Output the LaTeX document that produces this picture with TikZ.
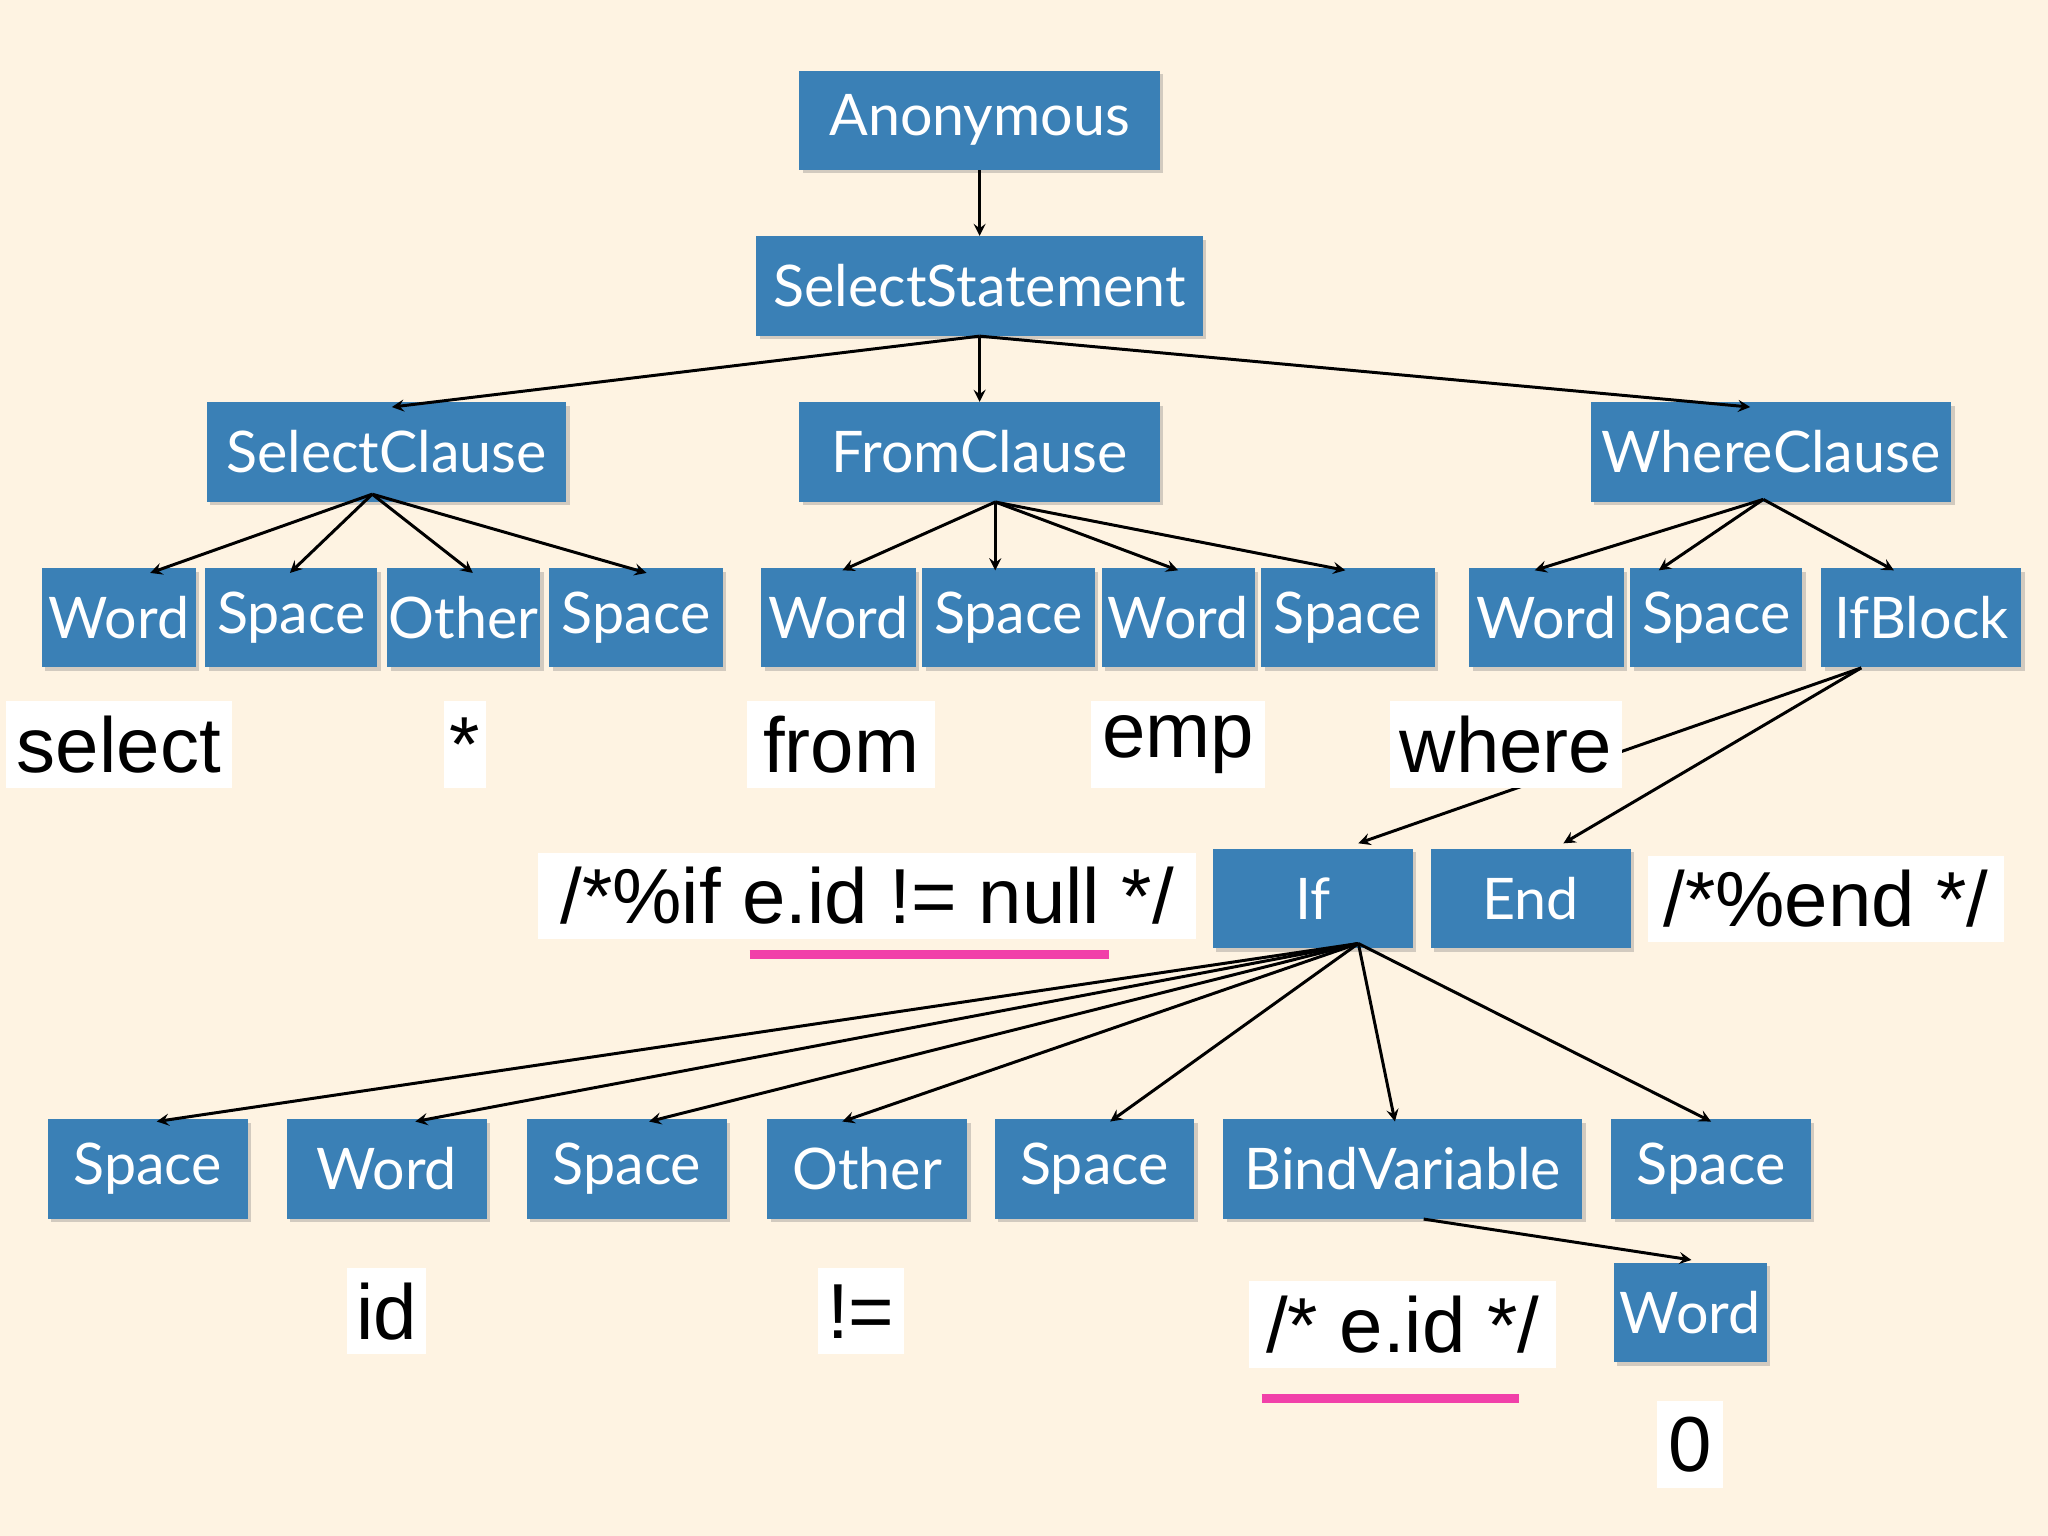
\documentclass[tikz,border=0pt]{standalone}
\usepackage{fontspec}
\setmainfont{Liberation Sans}
\newfontfamily\boxfont{Lato}
\usetikzlibrary{calc,shadows}
\definecolor{bg}{HTML}{FEF3E2}
\definecolor{bx}{HTML}{3A80B6}
\begin{document}
\begin{tikzpicture}[x=0.02cm,y=-0.02cm,
 b/.style={fill=bx,text=white,minimum height=76*0.02cm,inner sep=0pt,font=\boxfont\fontsize{25}{30}\selectfont,drop shadow={shadow xshift=1.5pt,shadow yshift=-1.5pt,opacity=0.35}},
 l/.style={fill=white,inner sep=0pt,minimum height=66*0.02cm,font=\fontsize{34}{40}\selectfont},
 e/.style={-stealth,line width=1.3pt}]
\fill[bg] (0,0) rectangle (1568,1176);
\node[b,minimum width=276*0.02cm] (an) at (750,92) {Anonymous};
\node[b,minimum width=342*0.02cm] (ss) at (750,219) {SelectStatement};
\node[b,minimum width=275*0.02cm] (sc) at (296,346) {SelectClause};
\node[b,minimum width=276*0.02cm] (fc) at (750,346) {FromClause};
\node[b,minimum width=276*0.02cm] (wc) at (1356,346) {WhereClause};
\node[b,minimum width=118*0.02cm] (a1) at (91,473) {Word};
\node[b,minimum width=132*0.02cm] (a2) at (223,473) {Space};
\node[b,minimum width=117*0.02cm] (a3) at (355,473) {Other};
\node[b,minimum width=133*0.02cm] (a4) at (487,473) {Space};
\node[b,minimum width=118*0.02cm] (b1) at (642,473) {Word};
\node[b,minimum width=132*0.02cm] (b2) at (772,473) {Space};
\node[b,minimum width=117*0.02cm] (b3) at (902,473) {Word};
\node[b,minimum width=133*0.02cm] (b4) at (1032,473) {Space};
\node[b,minimum width=118*0.02cm] (c1) at (1184,473) {Word};
\node[b,minimum width=132*0.02cm] (c2) at (1314,473) {Space};
\node[b,minimum width=153*0.02cm] (c3) at (1471,473) {IfBlock};
\node[b,minimum width=153*0.02cm] (if) at (1005,688) {If};
\node[b,minimum width=153*0.02cm] (en) at (1172,688) {End};
\node[b,minimum width=153*0.02cm] (d1) at (113,895) {Space};
\node[b,minimum width=153*0.02cm] (d2) at (296,895) {Word};
\node[b,minimum width=153*0.02cm] (d3) at (480,895) {Space};
\node[b,minimum width=153*0.02cm] (d4) at (664,895) {Other};
\node[b,minimum width=153*0.02cm] (d5) at (838,895) {Space};
\node[b,minimum width=275*0.02cm] (d6) at (1074,895) {BindVariable};
\node[b,minimum width=153*0.02cm] (d7) at (1310,895) {Space};
\node[b,minimum width=117*0.02cm] (wd) at (1294,1005) {Word};
% edges
\draw[e] (an.south) -- (ss.north);
\draw[e] (ss.south) -- ($(sc.north)+(4,4)$);
\draw[e] (ss.south) -- (fc.north);
\draw[e] (ss.south) -- ($(wc.north)+(-16,4)$);
\foreach \n/\d in {a1/24,a2/-1,a3/7,a4/8}
  \draw[e] ($(sc.south)+(-11,-6)$) -- ($(\n.north)+(\d,4)$);
\foreach \n/\d in {b1/3,b2/-10,b3/0,b4/-2}
  \draw[e] ($(fc.south)+(12,0)$) -- ($(\n.north)+(\d,2)$);
\foreach \n/\d in {c1/-9,c2/-44,c3/-21}
  \draw[e] ($(wc.south)+(-6,-2)$) -- ($(\n.north)+(\d,2)$);
\draw[e] ($(c3.south)+(-46,0)$) -- ($(if.north)+(35,-4)$);
\draw[e] ($(c3.south)+(-46,0)$) -- ($(en.north)+(25,-4)$);
\foreach \n/\d in {d1/7,d2/22,d3/17,d4/-19,d5/12,d6/-6,d7/0}
  \draw[e] ($(if.south)+(35,-4)$) -- ($(\n.north)+(\d,2)$);
\draw[e] ($(d6.south)+(16,0)$) -- ($(wd.north)+(1,-2)$);
% labels
\node[l,minimum width=173*0.02cm] (t1) at (91,570) {select};
\node[l,minimum width=32*0.02cm] (t2) at (356,570) {*};
\node[l,minimum width=144*0.02cm] (t3) at (644,570) {from};
\node[l,minimum width=133*0.02cm] (t4) at (902,570) {emp};
\node[l,minimum width=178*0.02cm] (t5) at (1153,570) {where};
\node[l,minimum width=504*0.02cm] (t6) at (664,686) {/*\%if e.id != null */};
\node[l,minimum width=273*0.02cm] (t7) at (1398,688) {/*\%end */};
\node[l,minimum width=61*0.02cm] (t8) at (296,1004) {id};
\node[l,minimum width=66*0.02cm] (t9) at (659,1004) {!=};
\node[l,minimum width=235*0.02cm] (t10) at (1074,1014) {/* e.id */};
\node[l,minimum width=51*0.02cm] (t11) at (1294,1106) {0};
\draw[magenta!75,line width=4pt] (574,731) -- (849,731);
\draw[magenta!75,line width=4pt] (966,1071) -- (1163,1071);
\end{tikzpicture}
\end{document}
